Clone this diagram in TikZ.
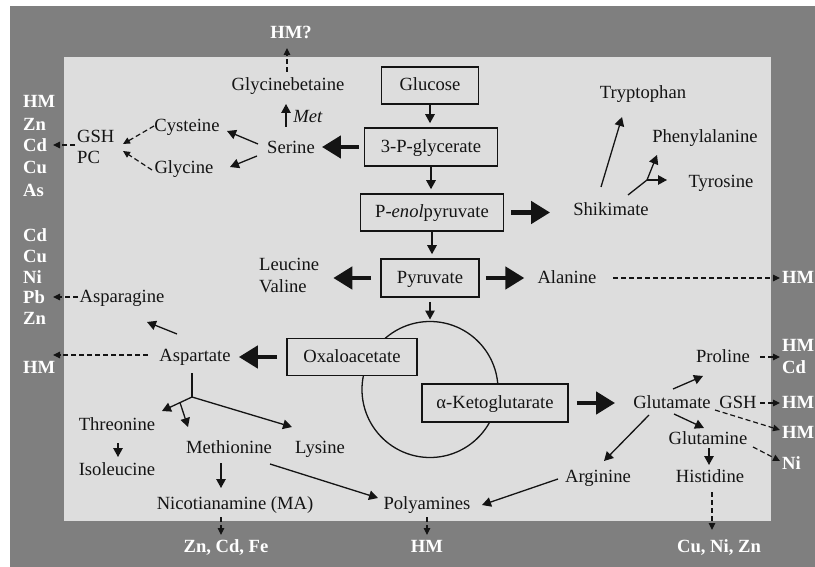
\documentclass[tikz,border=0pt]{standalone}
\usepackage{fontspec}
\setmainfont{Liberation Serif}
\usetikzlibrary{arrows.meta}
\definecolor{outerg}{HTML}{7F7F7F}
\definecolor{innerg}{HTML}{DDDDDD}
\definecolor{ink}{HTML}{141414}
\begin{document}
\begin{tikzpicture}[x=1pt,y=-1pt,
  txt/.style={inner sep=0pt, text height=11pt, text depth=0pt, text=ink, font=\fontsize{18.6}{22}\selectfont},
  wl/.style={inner sep=0pt, text height=11pt, text depth=0pt, text=white, font=\bfseries\fontsize{18.6}{22}\selectfont},
  wll/.style={wl, anchor=west},
  box/.style={txt, draw=ink, line width=1.6pt, fill=innerg},
  sm/.style={draw=ink, line width=1.3pt, -{Triangle[length=9pt,width=9.5pt]}},
  big/.style={draw=ink, line width=4.5pt, -{Triangle[length=19pt,width=22pt]}},
  dsh/.style={draw=ink, line width=1.2pt, dash pattern=on 5pt off 3pt, -{Triangle[length=7pt,width=6.5pt]}}
]
\useasboundingbox (0,0) rectangle (815,567);
\fill[white] (0,0) rectangle (815,567);
\fill[outerg] (10,6) rectangle (815,567);
\fill[innerg] (64,57) rectangle (771,521);

% TCA circle
\draw[ink, line width=1.3pt] (430,389.5) circle (68pt);
\coordinate (ctop) at (430,321.5);

% boxes
\node[box, minimum width=97pt, minimum height=37pt] (glucose) at (430,85.5) {Glucose};
\node[box, minimum width=133pt, minimum height=38pt] (pgly) at (431,147) {3-P-glycerate};
\node[box, minimum width=143pt, minimum height=37pt] (pep) at (432,212.5) {P-\textit{enol}pyruvate};
\node[box, minimum width=98pt, minimum height=38pt] (pyr) at (430,278) {Pyruvate};
\node[box, minimum width=130pt, minimum height=37pt] (oxa) at (352,357) {Oxaloacetate};
\node[box, minimum width=146pt, minimum height=38pt] (akg) at (495,403) {α-Ketoglutarate};

% text nodes
\node[wl] (hmq) at (291,33) {HM?};
\node[txt] (gbet) at (288,85) {Glycinebetaine};
\node[txt] (met) at (308,117) {\textit{Met}};
\node[txt] (serine) at (291,148) {Serine};
\node[txt] (cysteine) at (187,126) {Cysteine};
\node[txt] (glycine) at (184,168) {Glycine};
\node[txt, anchor=west] (gsh) at (77,137) {GSH};
\node[txt, anchor=west] (pc) at (77,158) {PC};
\node[wll] (hm1) at (23,102) {HM};
\node[wll] (zn1) at (23,125) {Zn};
\node[wll] (cd1) at (23,146) {Cd};
\node[wll] (cu1) at (23,168) {Cu};
\node[wll] (as1) at (23,191) {As};
\node[wll] (cd2) at (23,236) {Cd};
\node[wll] (cu2) at (23,257) {Cu};
\node[wll] (ni2) at (23,278) {Ni};
\node[wll] (pb2) at (23,298) {Pb};
\node[wll] (zn2) at (23,319) {Zn};
\node[wll] (hm2) at (23,368) {HM};
\node[txt] (asparagine) at (122,297) {Asparagine};
\node[txt] (aspartate) at (195,356) {Aspartate};
\node[txt, anchor=west] (leucine) at (259,265) {Leucine};
\node[txt, anchor=west] (valine) at (259,287) {Valine};
\node[txt] (alanine) at (567,278) {Alanine};
\node[txt] (shikimate) at (611,210) {Shikimate};
\node[txt] (tryptophan) at (643,93) {Tryptophan};
\node[txt] (phenyl) at (705,137) {Phenylalanine};
\node[txt] (tyrosine) at (721,182) {Tyrosine};
\node[wll] (hmr1) at (782,278) {HM};
\node[txt] (proline) at (723,357) {Proline};
\node[wll] (hmr2) at (782,346) {HM};
\node[wll] (cdr) at (782,368) {Cd};
\node[txt] (glutamate) at (672,403) {Glutamate};
\node[txt] (gshr) at (738,403) {GSH};
\node[wll] (hmr3) at (782,403) {HM};
\node[wll] (hmr4) at (782,433) {HM};
\node[txt] (glutamine) at (708,439) {Glutamine};
\node[wll] (nir) at (782,464) {Ni};
\node[txt] (histidine) at (710,477) {Histidine};
\node[txt] (arginine) at (598,477) {Arginine};
\node[txt] (polyamines) at (427,504) {Polyamines};
\node[txt] (threonine) at (117,425) {Threonine};
\node[txt] (isoleucine) at (117,470) {Isoleucine};
\node[txt] (methionine) at (229,448) {Methionine};
\node[txt] (lysine) at (320,448) {Lysine};
\node[txt] (nicot) at (235,504) {Nicotianamine (MA)};
\node[wl] (hmb) at (427,547) {HM};
\node[wl] (znb) at (226,547) {Zn, Cd, Fe};
\node[wl] (cub) at (719,547) {Cu, Ni, Zn};

% connector end points
\coordinate (metA) at (286,127); \coordinate (metB) at (286,104);
\coordinate (gbA) at (287,72); \coordinate (gbB) at (287,48);
\coordinate (seA) at (258,144); \coordinate (seB) at (227,131);
\coordinate (sgA) at (257,156); \coordinate (sgB) at (230,167);
\coordinate (cyA) at (154,126); \coordinate (cyB) at (123,144);
\coordinate (glA) at (152,170); \coordinate (glB) at (123,151);
\coordinate (gsA) at (75,145); \coordinate (gsB) at (53,145);
\coordinate (asnA) at (78,297); \coordinate (asnB) at (53,297);
\coordinate (aspA) at (177,334); \coordinate (aspB) at (147,322);
\coordinate (asdA) at (148,355); \coordinate (asdB) at (53,355);
\coordinate (brA) at (192,373); \coordinate (brJ) at (192,397);
\coordinate (thrB) at (162,411);
\coordinate (metsA) at (180,402.6); \coordinate (metsB) at (188,427);
\coordinate (lysB) at (292,427);
\coordinate (tiA) at (118,443); \coordinate (tiB) at (118,457);
\coordinate (mnA) at (221,463); \coordinate (mnB) at (221,488);
\coordinate (mpA) at (270,464); \coordinate (mpB) at (378,498);
\coordinate (naA) at (221,517); \coordinate (naB) at (221,535);
\coordinate (polA) at (427,517); \coordinate (polB) at (427,535);
\coordinate (arpA) at (558,479); \coordinate (arpB) at (482,505);
\coordinate (garA) at (649,415); \coordinate (garB) at (604,461);
\coordinate (gprA) at (673,389); \coordinate (gprB) at (703,376);
\coordinate (pdA) at (760,357); \coordinate (pdB) at (780,357);
\coordinate (gshA) at (760,403); \coordinate (gshB) at (780,403);
\coordinate (ghA) at (715,410); \coordinate (ghB) at (780,430);
\coordinate (gqA) at (674,414); \coordinate (gqB) at (704,428);
\coordinate (qhA) at (709,448); \coordinate (qhB) at (709,465);
\coordinate (qnA) at (753,447); \coordinate (qnB) at (780,461);
\coordinate (hisA) at (712,492); \coordinate (hisB) at (712,530);
\coordinate (alaA) at (613,278); \coordinate (alaB) at (780,278);
\coordinate (trA) at (601,187); \coordinate (trB) at (622,117);
\coordinate (shA) at (628,195); \coordinate (shJ) at (647,180);
\coordinate (phB) at (657,155); \coordinate (tyB) at (667,180);

% main chain
\draw[sm, shorten >=4pt] (glucose.south) -- (glucose.south |- pgly.north);
\draw[sm, shorten >=4pt] (pgly.south) -- (pgly.south |- pep.north);
\draw[sm, shorten >=4pt] (pep.south) -- (pep.south |- pyr.north);
\draw[sm, shorten <=4pt, shorten >=2pt] (pyr.south) -- (pyr.south |- ctop);

% thick arrows
\draw[big, shorten <=5pt, shorten >=7pt] (pgly.west) -- (pgly.west -| serine.east);
\draw[big, shorten <=7pt, shorten >=23pt] (pep.east) -- (pep.east -| shikimate.west);
\draw[big, shorten <=9pt, shorten >=14pt] (pyr.west) -- (pyr.west -| leucine.east);
\draw[big, shorten <=6pt, shorten >=13pt] (pyr.east) -- (pyr.east -| alanine.west);
\draw[big, shorten <=9pt, shorten >=8pt] (oxa.west) -- (oxa.west -| aspartate.east);
\draw[big, shorten <=8pt, shorten >=18pt] (akg.east) -- (akg.east -| glutamate.west);

% upper left
\draw[sm] (metA) -- (metB);
\draw[dsh] (gbA) -- (gbB);
\draw[sm] (seA) -- (seB);
\draw[sm] (sgA) -- (sgB);
\draw[dsh] (cyA) -- (cyB);
\draw[dsh] (glA) -- (glB);
\draw[dsh] (gsA) -- (gsB);

% aspartate family
\draw[dsh] (asnA) -- (asnB);
\draw[sm] (aspA) -- (aspB);
\draw[dsh] (asdA) -- (asdB);
\draw[ink, line width=1.3pt] (brA) -- (brJ);
\draw[sm] (brJ) -- (thrB);
\draw[sm] (metsA) -- (metsB);
\draw[sm] (brJ) -- (lysB);
\draw[sm] (tiA) -- (tiB);
\draw[sm] (mnA) -- (mnB);
\draw[sm] (mpA) -- (mpB);
\draw[dsh] (naA) -- (naB);
\draw[dsh] (polA) -- (polB);

% shikimate
\draw[sm] (trA) -- (trB);
\draw[ink, line width=1.3pt] (shA) -- (shJ);
\draw[sm] (shJ) -- (phB);
\draw[sm] (shJ) -- (tyB);

% alanine
\draw[dsh] (alaA) -- (alaB);

% glutamate family
\draw[sm] (arpA) -- (arpB);
\draw[sm] (garA) -- (garB);
\draw[sm] (gprA) -- (gprB);
\draw[dsh] (pdA) -- (pdB);
\draw[dsh] (gshA) -- (gshB);
\draw[dsh] (ghA) -- (ghB);
\draw[sm] (gqA) -- (gqB);
\draw[sm] (qhA) -- (qhB);
\draw[dsh] (qnA) -- (qnB);
\draw[dsh] (hisA) -- (hisB);
\end{tikzpicture}
\end{document}
